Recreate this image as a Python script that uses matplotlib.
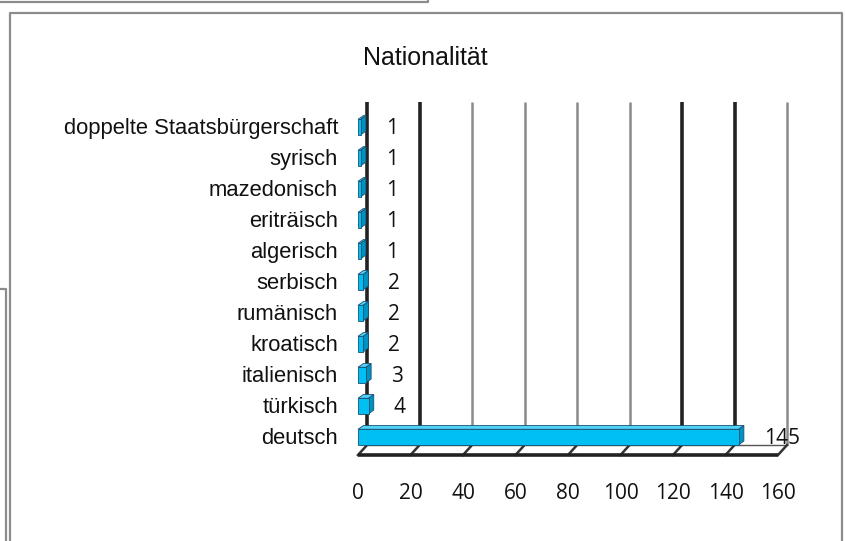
import matplotlib.pyplot as plt
import numpy as np
from matplotlib.patches import Polygon
from matplotlib.lines import Line2D

categories = ['deutsch', 'türkisch', 'italienisch', 'kroatisch', 'rumänisch',
              'serbisch', 'algerisch', 'eriträisch', 'mazedonisch', 'syrisch',
              'doppelte Staatsbürgerschaft']
values = [145, 4, 3, 2, 2, 2, 1, 1, 1, 1, 1]
xticks = [0, 20, 40, 60, 80, 100, 120, 140, 160]
title = 'Nationalität'

W, H = 846, 541
fig = plt.figure(figsize=(W / 100, H / 100), dpi=100)
fig.patch.set_facecolor('white')

# front plane of the 3D box: 0 -> x=358px, 160 -> x=778px
ax = fig.add_axes([358 / W, 86 / H, 420 / W, 353 / H])
ax.set_xlim(0, 160)
ax.set_ylim(-0.52, 10.87)
ax.axis('off')

# depth offset of the back wall (in data units)
dx, dy = 3.43, 0.32
y_floor = -0.52
y_top = 10.87

# gridlines on back wall (some render dark, some gray, like the original)
dark = [0, 20, 120, 140]
for t in xticks:
    if t in dark:
        col, lw = '#222222', 2.6
    else:
        col, lw = '#8a8a8a', 1.8
    ax.plot([t + dx, t + dx], [y_floor + dy, y_top], color=col, lw=lw,
            clip_on=False, solid_capstyle='butt', zorder=1)
    # slanted tick on the floor
    ax.plot([t + dx, t], [y_floor + dy, y_floor], color='#333333', lw=1.8,
            clip_on=False, zorder=2)

# front edge of the floor
ax.plot([0, 160], [y_floor, y_floor], color='#222222', lw=2.6, clip_on=False,
        solid_capstyle='butt', zorder=2)
ax.plot([0 + dx, 160 + dx], [y_floor + dy, y_floor + dy], color='#555555',
        lw=1.0, clip_on=False, zorder=1)

# 3D bars
ypos = np.arange(len(categories)) + 0.06
bh = 0.5
bdx, bdy = 2.0, 0.12
front = '#00bff3'
topc = '#4fd3fa'
sidec = '#0092c0'
edge = '#1b4f72'
ax.barh(ypos, values, height=bh, left=0, color=front, edgecolor=edge,
        linewidth=0.6, clip_on=False, zorder=4)
for y, v in zip(ypos, values):
    top = Polygon([(0, y + bh / 2), (v, y + bh / 2), (v + bdx, y + bh / 2 + bdy),
                   (bdx, y + bh / 2 + bdy)], closed=True, facecolor=topc,
                  edgecolor=edge, lw=0.6, clip_on=False, zorder=3)
    side = Polygon([(v, y - bh / 2), (v + bdx, y - bh / 2 + bdy),
                    (v + bdx, y + bh / 2 + bdy), (v, y + bh / 2)], closed=True,
                   facecolor=sidec, edgecolor=edge, lw=0.6, clip_on=False,
                   zorder=3)
    ax.add_patch(top)
    ax.add_patch(side)

# value labels
for i, v in enumerate(values):
    ax.text(v + 9.5, i, str(v), ha='left', va='center', fontsize=15,
            family='Open Sans', color='#111111', clip_on=False, zorder=5)

# category labels
for i, c in enumerate(categories):
    ax.text(-7.6, i, c, ha='right', va='center', fontsize=15.8,
            family='Liberation Sans', color='#111111', clip_on=False)

# x tick labels
for t in xticks:
    ax.text(t, -1.77, str(t), ha='center', va='center', fontsize=15,
            family='Open Sans', color='#111111', clip_on=False)

fig.text(425 / W, 1 - 58 / H, title, ha='center', va='center', fontsize=18,
         family='Liberation Sans', color='#111111')


# frame lines (pixel coordinates, origin top-left)
def pline(xs, ys, lw=1.6, col='#8c8c8c'):
    fig.add_artist(Line2D([x / W for x in xs], [1 - y / H for y in ys],
                          transform=fig.transFigure, color=col, lw=lw))


pline([0, 428, 428], [2, 2, 0])
pline([9.5, 9.5, 842, 842], [H, 13, 13, H])
pline([0, 5.5, 5.5], [289, 289, H])

fig.savefig('out.png', dpi=100)
